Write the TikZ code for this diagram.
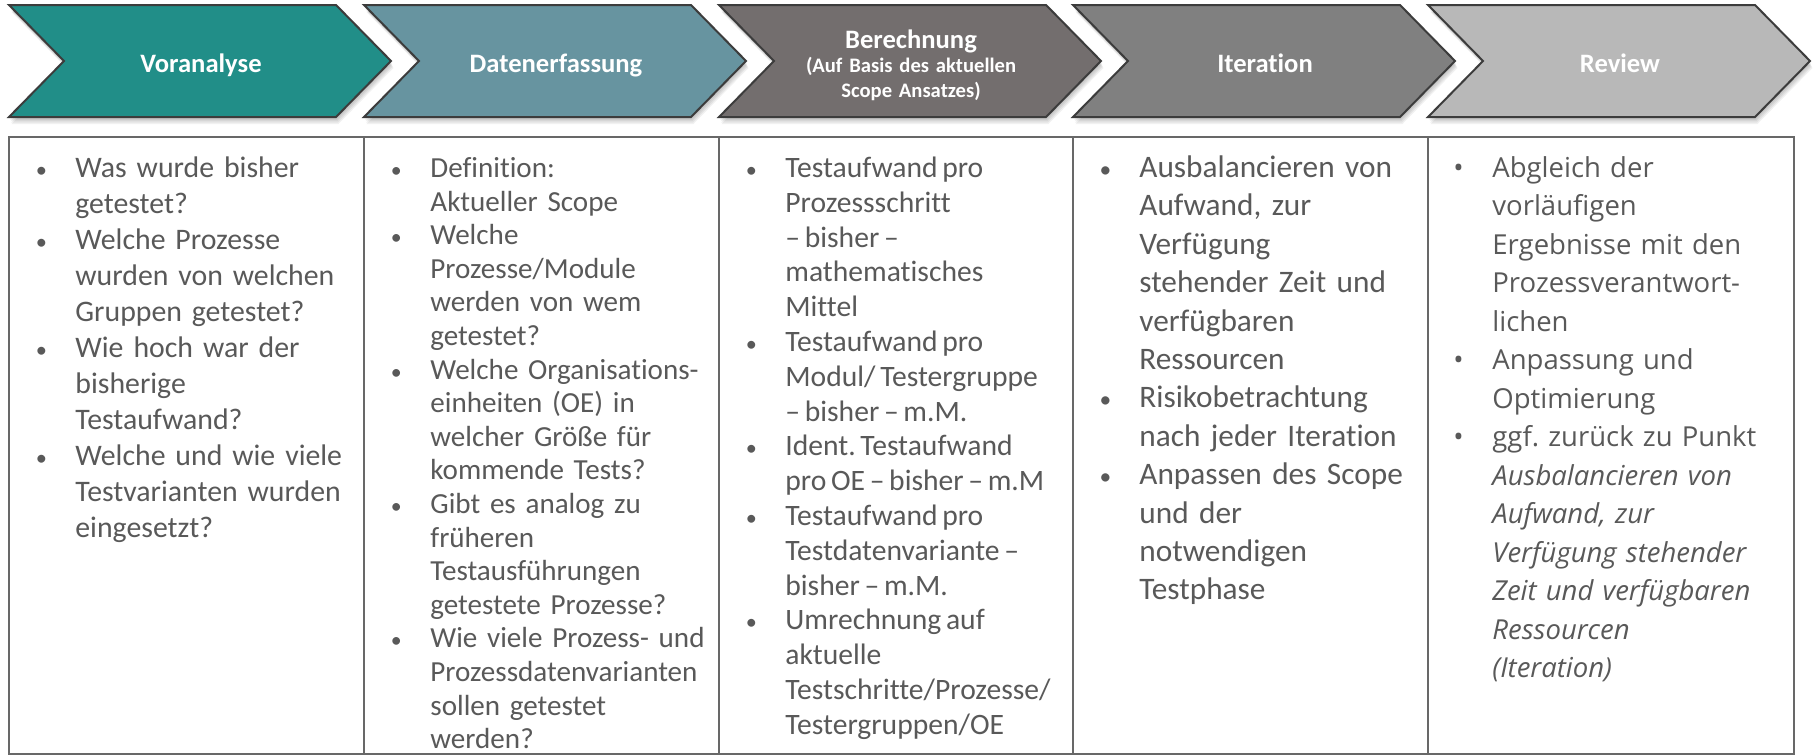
\documentclass[tikz,border=0pt]{standalone}
\usepackage{fontspec}
\setmainfont{Carlito}[Ligatures={TeX,NoCommon}]
\newfontfamily\osans{Open Sans}[Ligatures={TeX,NoCommon}]
\frenchspacing
\definecolor{cA}{HTML}{218E88}
\definecolor{cB}{HTML}{6794A0}
\definecolor{cC}{HTML}{736E6E}
\definecolor{cD}{HTML}{808080}
\definecolor{cE}{HTML}{B8B8B8}
\definecolor{txtgray}{HTML}{595959}
\definecolor{chevline}{HTML}{3C3C3C}
\definecolor{tabline}{HTML}{686868}
\newcommand\mybul{\leavevmode\llap{\makebox[0pt]{\scalebox{0.75}{•}}\hspace{17pt}}}
\newcommand\mybulo{\leavevmode\llap{\makebox[0pt]{•}\hspace{17pt}}}
\newcommand\firstline{\rule{0pt}{20pt}}
\tikzset{
  pics/chevron/.style={code={
    \foreach \s in {1,...,5}{
      \fill[black,opacity=0.055,shift={({0.5*\s},{1.4*\s})}] (0,5) -- (327,5) -- (382,61) -- (327,117) -- (0,117) -- (55,61) -- cycle;
    }
    \draw[chevline,line width=1pt,fill=#1] (0,5) -- (327,5) -- (382,61) -- (327,117) -- (0,117) -- (55,61) -- cycle;
  }},
  hdr/.style={text=white,inner sep=0pt,font=\bfseries\fontsize{13.3}{16}\selectfont,text height=9.5pt,text depth=2.5pt},
  bodytext/.style={anchor=north west,inner sep=0pt,text width=170pt,align=left,text=txtgray,execute at begin node={\setlength\parindent{0pt}}},
  tabrule/.style={tabline,line width=1.2pt},
}
\begin{document}
\begin{tikzpicture}[x=0.5pt,y=-0.5pt]
\useasboundingbox (0,0) rectangle (1814,755);
\fill[white] (0,0) rectangle (1814,755);
% chevrons
\pic at (9,0) {chevron=cA};
\pic at (364,0) {chevron=cB};
\pic at (719,0) {chevron=cC};
\pic at (1073,0) {chevron=cD};
\pic at (1428,0) {chevron=cE};
\node[hdr] (h1) at (201,65.5) {Voranalyse};
\node[hdr] (h2) at (556,65.5) {Datenerfassung};
\node[anchor=north,inner sep=0pt,text=white,text width=160pt,align=center,font=\bfseries\fontsize{10.3}{12.4}\selectfont] (h3) at (911,29) {{\fontsize{13.3}{12.4}\selectfont Berechnung}\\
(Auf Basis des aktuellen\\
Scope Ansatzes)};
\node[hdr] (h4) at (1265,65.5) {Iteration};
\node[hdr] (h5) at (1620,65.5) {Review};
% table
\draw[tabrule] (9,137) rectangle (1794,754);
\foreach \x in {364,719,1073,1428} \draw[tabrule] (\x,137) -- (\x,754);
% column 1
\node[bodytext,font=\fontsize{14.9}{18}\selectfont] (b1) at (75,137) {\mybul\firstline Was wurde bisher\\
getestet?\\
\mybul Welche Prozesse\\
wurden von welchen\\
Gruppen getestet?\\
\mybul Wie hoch war der\\
bisherige\\
Testaufwand?\\
\mybul Welche und wie viele\\
Testvarianten wurden\\
eingesetzt?};
% column 2
\node[bodytext,font=\fontsize{14.55}{16.8}\selectfont] (b2) at (430,137) {\mybul\firstline Definition:\\
Aktueller Scope\\
\mybul Welche\\
Prozesse/Module\\
werden von wem\\
getestet?\\
\mybul Welche Organisations-\\
einheiten (OE) in\\
welcher Größe für\\
kommende Tests?\\
\mybul Gibt es analog zu\\
früheren\\
Testausführungen\\
getestete Prozesse?\\
\mybul Wie viele Prozess- und\\
Prozessdatenvarianten\\
sollen getestet\\
werden?};
% column 3
\node[bodytext,font=\fontsize{14.8}{17.4}\selectfont,execute at begin node={\setlength\parindent{0pt}\spaceskip=0.7\fontdimen2\font plus 0.1em}] (b3) at (785,137) {\mybul\firstline Testaufwand pro\\
Prozessschritt\\
– bisher –\\
mathematisches\\
Mittel\\
\mybul Testaufwand pro\\
Modul/ Testergruppe\\
– bisher – m.M.\\
\mybul Ident. Testaufwand\\
pro OE – bisher – m.M\\
\mybul Testaufwand pro\\
Testdatenvariante –\\
bisher – m.M.\\
\mybul Umrechnung auf\\
aktuelle\\
Testschritte/Prozesse/\\
Testergruppen/OE};
% column 4
\node[bodytext,font=\fontsize{15.65}{19.2}\selectfont] (b4) at (1139,137) {\mybul\firstline Ausbalancieren von\\
Aufwand, zur\\
Verfügung\\
stehender Zeit und\\
verfügbaren\\
Ressourcen\\
\mybul Risikobetrachtung\\
nach jeder Iteration\\
\mybul Anpassen des Scope\\
und der\\
notwendigen\\
Testphase};
% column 5
\node[bodytext,font=\osans\fontsize{13.75}{19.25}\selectfont] (b5) at (1492,137) {\mybulo\firstline Abgleich der\\
vorläufigen\\
Ergebnisse mit den\\
Prozessverantwort-\\
lichen\\
\mybulo Anpassung und\\
Optimierung\\
\mybulo ggf. zurück zu Punkt\\
{\itshape Ausbalancieren von\\
Aufwand, zur\\
Verfügung stehender\\
Zeit und verfügbaren\\
Ressourcen\\
(Iteration)}};
\end{tikzpicture}
\end{document}
